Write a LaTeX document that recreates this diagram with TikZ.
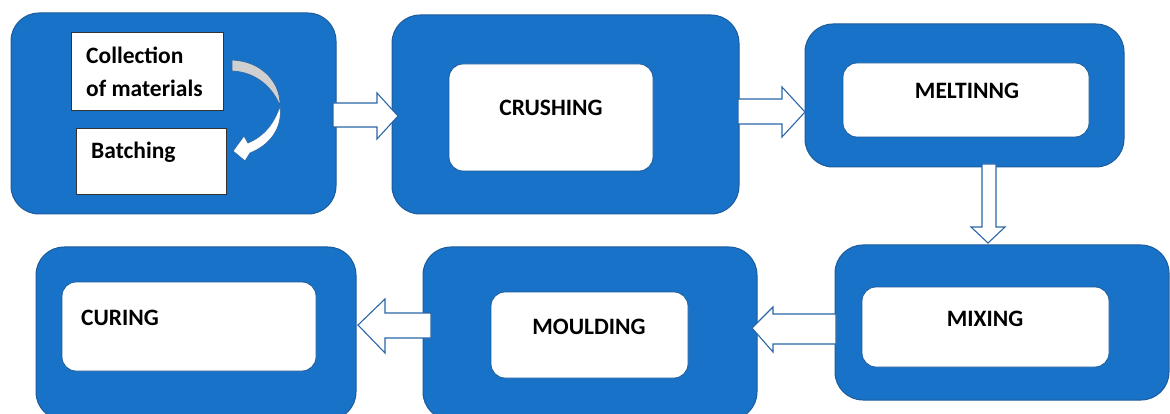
\documentclass[tikz,border=0pt]{standalone}
\usepackage{fontspec}
\newfontfamily\lbl{Carlito Bold}
\usetikzlibrary{positioning}
\definecolor{boxblue}{HTML}{1872C7}
\definecolor{boxedge}{HTML}{1C5B9C}
\definecolor{arredge}{HTML}{2A66A8}
\definecolor{twist}{HTML}{D0D0D0}
\tikzset{
  outerbox/.style={draw=boxedge, line width=1pt, fill=boxblue, rounded corners=28pt,
    rectangle, inner sep=0pt, outer sep=0pt, anchor=north west},
  innerbox/.style={draw=boxedge, line width=0.8pt, fill=white, rounded corners=14pt,
    rectangle, inner sep=0pt, outer sep=0pt, anchor=north west},
  plainbox/.style={draw=black!80, line width=0.8pt, fill=white,
    rectangle, inner sep=0pt, outer sep=0pt, anchor=north west},
  lab/.style={font=\lbl\fontsize{23.5}{27}\selectfont, text=black, inner sep=0pt},
  blockarrow/.style={draw=arredge, line width=1.1pt, fill=white, line join=miter},
}
\newcommand{\bx}[6]{\node[#1, minimum width=#4pt-#2pt, minimum height=#5pt-#3pt] (#6) at (#2,#3) {};}
\begin{document}
\begin{tikzpicture}[x=1pt,y=-1pt]
\useasboundingbox (0,0) rectangle (1170,414);
\begin{scope}
\clip (0,0) rectangle (1170,414);
% outer boxes
\bx{outerbox}{11}{13}{336}{214}{b1}
\bx{outerbox}{392}{15}{739}{214}{b2}
\bx{outerbox}{805}{24}{1124}{167}{b3}
\bx{outerbox}{835}{245}{1169}{400}{b4}
\bx{outerbox}{423}{247}{757}{420}{b5}
\bx{outerbox}{36}{247}{356}{420}{b6}
\end{scope}
% inner boxes
\bx{plainbox}{71}{32}{223}{110}{coll}
\bx{plainbox}{76}{128}{226}{194}{batch}
\bx{innerbox}{449}{64}{653}{171}{i2}
\bx{innerbox}{843}{63}{1089}{137}{i3}
\bx{innerbox}{862}{287}{1109}{367}{i4}
\bx{innerbox}{491}{292}{688}{378}{i5}
\bx{innerbox}{62}{282}{316}{371}{i6}
% labels
\node[lab, anchor=west] (tcoll1) at (86,55) {Collection};
\node[lab, anchor=west] (tcoll2) at (86,88) {of materials};
\node[lab, anchor=west] (tbatch) at (91,152) {Batching};
\node[lab] (t2) at (551,108) {CRUSHING};
\node[lab] (t3) at (967,91) {MELTINNG};
\node[lab] (t4) at (985,319) {MIXING};
\node[lab] (t5) at (589,327) {MOULDING};
\node[lab, anchor=west] (t6) at (81,318) {CURING};
% curved arrow inside first box
\draw[draw=arredge, line width=0.7pt, fill=twist]
  (232,60) .. controls (262,61) and (281,83) .. (280,106)
  .. controls (274,90) and (258,72) .. (232,71) -- cycle;
\draw[draw=arredge, line width=0.7pt, fill=white, line join=miter]
  (280,106) .. controls (283,128) and (270,145) .. (250,153)
  -- (245,161) -- (233,151) -- (244,136) -- (248,143)
  .. controls (264,136) and (274,124) .. (280,106) -- cycle;
% block arrows
\draw[blockarrow] (333,103) -- (377,103) -- (377,93) -- (398,116) -- (377,139) -- (377,127) -- (333,127) -- cycle;
\draw[blockarrow] (738,99) -- (782,99) -- (782,87) -- (805,112) -- (782,137) -- (782,124) -- (738,124) -- cycle;
\draw[blockarrow] (982,164) -- (996,164) -- (996,227) -- (1005,227) -- (988,243) -- (971,227) -- (982,227) -- cycle;
\draw[blockarrow] (836,314) -- (773,314) -- (773,307) -- (752,328) -- (773,352) -- (773,344) -- (836,344) -- cycle;
\draw[blockarrow] (431,313) -- (385,313) -- (385,299) -- (358,325) -- (385,353) -- (385,338) -- (431,338) -- cycle;
\end{tikzpicture}
\end{document}
